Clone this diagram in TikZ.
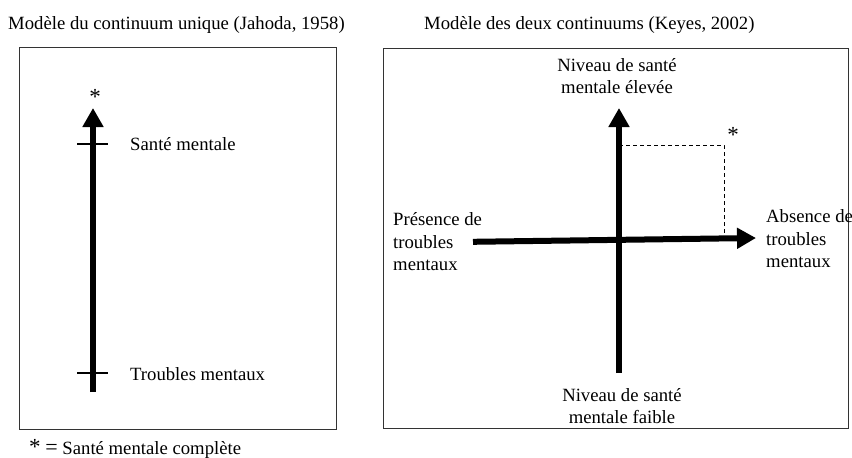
\documentclass[tikz,border=0pt]{standalone}
\usepackage{fontspec}
\setmainfont{Liberation Serif}
\usetikzlibrary{arrows.meta}
\begin{document}
\begin{tikzpicture}[x=1pt,y=-1pt,
  every node/.style={inner sep=0pt,font=\fontsize{18.7}{22.5}\selectfont},
  panel/.style={draw=black!80,line width=1pt},
  bigarrow/.style={line width=6pt,-{Triangle[width=20pt,length=19pt]}},
  tick/.style={line width=2pt},
  lbl/.style={align=left,anchor=west},
  clbl/.style={align=center},
  starlbl/.style={font=\fontsize{23}{23}\selectfont}]
\useasboundingbox (0,0) rectangle (852,458);
% titles
\node[anchor=base west] (t1) at (8,29) {Modèle du continuum unique (Jahoda, 1958)};
\node[anchor=base west] (t2) at (424,29) {Modèle des deux continuums (Keyes, 2002)};
% panels
\draw[panel] (19,47) rectangle (336,429);
\draw[panel] (383,48) rectangle (848,428);
% left panel
\coordinate (lb) at (93,392);
\coordinate (lt) at (93,108);
\draw[bigarrow] (lb) -- (lt);
\coordinate (t1a) at (77,144); \coordinate (t1b) at (108,144);
\coordinate (t2a) at (77,373); \coordinate (t2b) at (108,373);
\draw[tick] (t1a) -- (t1b);
\draw[tick] (t2a) -- (t2b);
\node[starlbl] (sl) at (95,97) {*};
\node[anchor=base west] (sm) at (130,150) {Santé mentale};
\node[anchor=base west] (tm) at (130,380) {Troubles mentaux};
% right panel
\coordinate (vb) at (619,373);
\coordinate (vt) at (619,108);
\coordinate (hl) at (473,241.8);
\coordinate (hr) at (756,238);
\draw[bigarrow] (hl) -- (hr);
\draw[bigarrow] (vb) -- (vt);
\coordinate (d1) at (619,145);
\coordinate (d2) at (724,145);
\coordinate (d3) at (724,238.5);
\draw[dashed,line width=0.8pt,dash pattern=on 4pt off 3pt] (d1) -- (d2) -- (d3);
\node[starlbl] (sr) at (733,135) {*};
\node[clbl] (top) at (617,76) {Niveau de santé\\mentale élevée};
\node[clbl] (bot) at (622,406) {Niveau de santé\\mentale faible};
\node[lbl] (pres) at (393,242) {Présence de\\troubles\\mentaux};
\node[lbl] (abs) at (766,239) {Absence de\\troubles\\mentaux};
% footnote
\node[anchor=base west] (fn) at (29,454) {{\fontsize{23}{23}\selectfont *} {\fontsize{22}{22}\selectfont =} Santé mentale complète};
\end{tikzpicture}
\end{document}
